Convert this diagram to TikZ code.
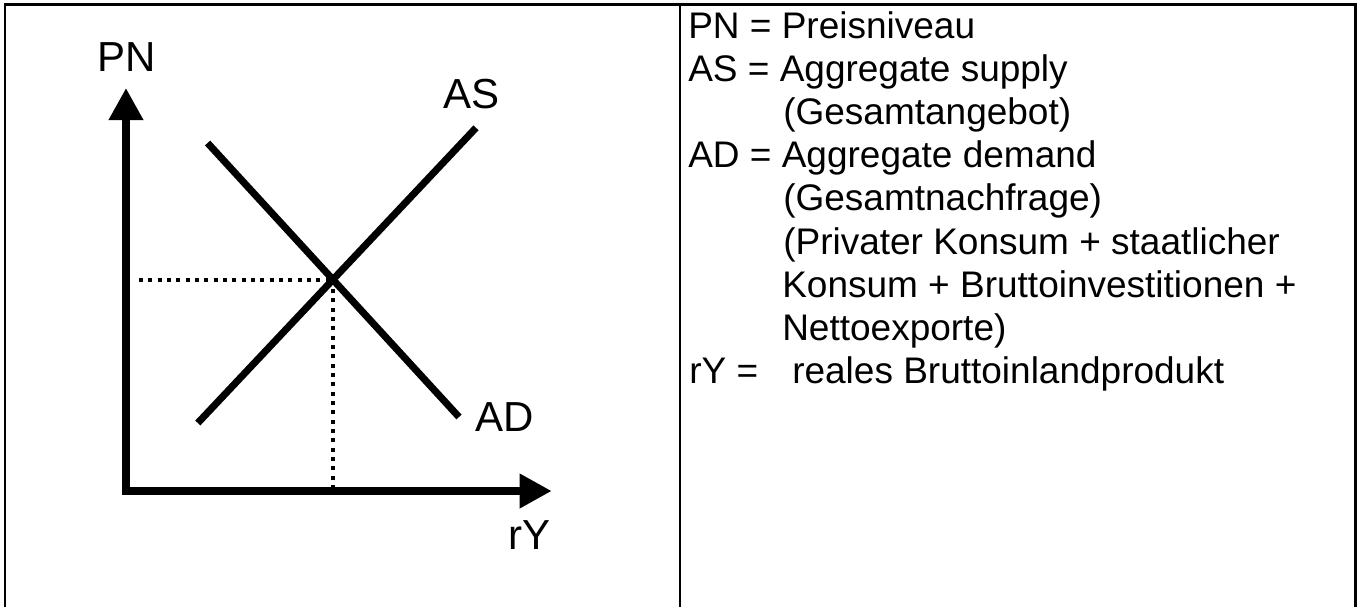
\documentclass[tikz,border=0pt]{standalone}
\usepackage{fontspec}
\setmainfont{Liberation Sans}
\usetikzlibrary{arrows.meta}
\begin{document}
\begin{tikzpicture}[x=0.75pt,y=-0.75pt,
  frame/.style={line width=1.7pt},
  axisline/.style={line width=5.8pt,
    {Triangle[length=24pt,width=24.5pt]}-{Triangle[length=24pt,width=24.5pt]}},
  curve/.style={line width=5.3pt},
  guide/.style={line width=3pt, dash pattern=on 3pt off 4pt},
  lab/.style={font=\fontsize{31.5pt}{36pt}\selectfont, inner sep=0pt, anchor=base},
  rt/.style={font=\fontsize{27.75pt}{32pt}\selectfont, inner sep=0pt, anchor=base west}]
\useasboundingbox (0,0) rectangle (1360,607);
% frame
\coordinate (BL) at (5,607);
\coordinate (TL) at (5,4.5);
\coordinate (TR) at (1355.5,4.5);
\coordinate (BR) at (1355.5,607);
\coordinate (DT) at (680,4.5);
\coordinate (DB) at (680,607);
\draw[frame] (BL) -- (TL) -- (TR) -- (BR);
\draw[frame] (DT) -- (DB);
% axes
\coordinate (O) at (126,491);
\coordinate (Ytip) at (126,88);
\coordinate (Xtip) at (551.7,491);
\draw[axisline] (Ytip) -- (O) -- (Xtip);
% curves
\coordinate (ASa) at (197.8,423);
\coordinate (ASb) at (476,127.8);
\coordinate (ADa) at (207.6,143);
\coordinate (ADb) at (459,417);
\draw[curve] (ASa) -- (ASb);
\draw[curve] (ADa) -- (ADb);
\coordinate (E) at (intersection of ASa--ASb and ADa--ADb);
\coordinate (H) at (139,0 |- E);
\draw[guide] (H) -- (E);
\draw[guide] (E) -- (E |- O);
% labels
\node[lab] (lPN) at (126.5,71.6) {PN};
\node[lab] (lAS) at (471.5,108) {AS};
\node[lab] (lAD) at (505,431.7) {AD};
\node[lab] (lrY) at (529.5,549) {rY};
% legend
\node[rt] (t1) at (688,38.5) {PN = Preisniveau};
\node[rt] (t2) at (688,81.6) {AS = Aggregate supply};
\node[rt] (t3) at (783,124.7) {(Gesamtangebot)};
\node[rt] (t4) at (688,167.8) {AD = Aggregate demand};
\node[rt] (t5) at (783,210.9) {(Gesamtnachfrage)};
\node[rt] (t6) at (783,254) {(Privater Konsum + staatlicher};
\node[rt] (t7) at (782,297.1) {Konsum + Bruttoinvestitionen +};
\node[rt] (t8) at (782,340.2) {Nettoexporte)};
\node[rt] (k9) at (689,383.3) {rY =};
\node[rt] (t9) at (792,383.3) {reales Bruttoinlandprodukt};
\end{tikzpicture}
\end{document}
